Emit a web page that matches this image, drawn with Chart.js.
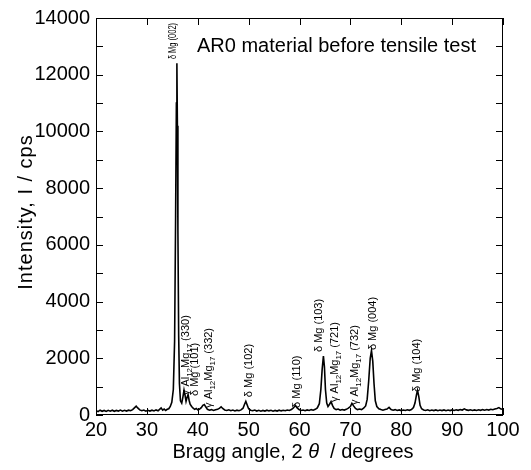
<!DOCTYPE html>
<html lang="en">
<head>
<meta charset="UTF-8">
<title>AR0 material before tensile test</title>
<script src="https://cdn.jsdelivr.net/npm/chart.js"></script>
<style>
  html, body { margin: 0; padding: 0; background: #fff; }
  #wrap { width: 531px; height: 470px; }
</style>
</head>
<body>
<div id="wrap"><canvas id="chart" width="531" height="470"></canvas></div>
<script>
// diffraction pattern, 2 theta in degrees, intensity in cps
const twoTheta = [
  20.0, 20.4, 20.8, 21.2, 21.6, 22.0, 22.4, 22.8, 23.2, 23.6, 24.0, 24.4, 24.8, 25.2, 25.6, 26.0, 26.4, 26.8,
  27.2, 27.6, 27.9, 28.2, 28.6, 29.0, 29.4, 29.8, 30.2, 30.6, 31.0, 31.4, 31.8, 32.2, 32.5, 32.8, 33.1, 33.4,
  33.7, 34.0, 34.3, 34.6, 34.9, 35.2, 35.45, 35.65, 35.8, 35.9, 36.0, 36.1, 36.25, 36.4, 36.6, 36.85, 37.1, 37.3,
  37.5, 37.7, 37.9, 38.1, 38.3, 38.5, 38.8, 39.1, 39.4, 39.7, 40.0, 40.3, 40.7, 41.0, 41.3, 41.6, 41.9, 42.3,
  42.7, 43.1, 43.5, 43.9, 44.3, 44.6, 44.9, 45.3, 45.7, 46.1, 46.5, 46.9, 47.3, 47.7, 48.1, 48.5, 48.9, 49.2,
  49.45, 49.7, 50.0, 50.4, 50.8, 51.2, 51.6, 52.0, 52.4, 52.8, 53.2, 53.6, 54.0, 54.4, 54.8, 55.2, 55.6, 56.0,
  56.4, 56.8, 57.2, 57.6, 58.0, 58.4, 58.8, 59.2, 59.5, 59.9, 60.3, 60.7, 61.1, 61.5, 61.9, 62.3, 62.7, 63.1,
  63.5, 63.9, 64.2, 64.45, 64.7, 64.9, 65.1, 65.35, 65.6, 65.9, 66.2, 66.5, 66.8, 67.2, 67.6, 68.0, 68.4, 68.8,
  69.2, 69.6, 70.0, 70.3, 70.6, 71.0, 71.4, 71.8, 72.2, 72.6, 73.0, 73.3, 73.6, 73.9, 74.15, 74.4, 74.65, 74.9,
  75.2, 75.6, 76.0, 76.4, 76.8, 77.2, 77.6, 78.0, 78.4, 78.8, 79.2, 79.6, 80.0, 80.4, 80.8, 81.2, 81.6, 82.0,
  82.4, 82.7, 83.0, 83.2, 83.45, 83.7, 84.0, 84.4, 84.8, 85.2, 85.6, 86.0, 86.4, 86.8, 87.2, 87.6, 88.0, 88.4,
  88.8, 89.2, 89.6, 90.0, 90.4, 90.8, 91.2, 91.6, 92.0, 92.4, 92.8, 93.2, 93.6, 94.0, 94.4, 94.8, 95.2, 95.6,
  96.0, 96.4, 96.8, 97.2, 97.6, 98.0, 98.4, 98.8, 99.2, 99.6, 100.0
];
const intensity = [
  150, 120, 170, 130, 160, 125, 165, 135, 170, 130, 160, 140, 175, 135, 165, 140, 170, 150,
  190, 260, 310, 250, 180, 150, 175, 135, 165, 140, 170, 145, 180, 150, 200, 250, 170, 210,
  160, 200, 220, 300, 450, 900, 2600, 7000, 11000, 12400, 10200, 6500, 2800, 1100, 500, 420, 650, 880,
  700, 480, 620, 720, 520, 380, 300, 240, 200, 230, 180, 200, 260, 340, 370, 280, 200, 170,
  190, 160, 185, 200, 240, 290, 230, 180, 160, 185, 150, 175, 145, 170, 150, 180, 240, 380,
  480, 360, 220, 170, 150, 175, 140, 165, 135, 160, 140, 170, 145, 165, 135, 160, 140, 170,
  145, 165, 150, 175, 160, 190, 250, 340, 260, 190, 160, 175, 150, 180, 160, 190, 170, 200,
  250, 400, 900, 1600, 2080, 1700, 900, 420, 300, 380, 470, 330, 230, 190, 210, 170, 195, 175,
  200, 240, 300, 410, 330, 230, 190, 210, 190, 240, 320, 550, 1200, 2000, 2270, 1900, 1100, 500,
  300, 220, 190, 170, 195, 210, 270, 190, 170, 190, 160, 180, 155, 175, 160, 185, 165, 190,
  260, 420, 720, 870, 650, 340, 220, 180, 160, 185, 150, 175, 155, 180, 150, 175, 155, 180,
  150, 175, 155, 180, 160, 185, 165, 190, 175, 215, 180, 165, 185, 160, 180, 160, 185, 165,
  190, 170, 195, 175, 200, 185, 210, 230, 260, 210, 200
];

// peak labels: text (_NN = subscript), anchor angle, intensity where the text starts
const peakLabels = [
  'δ Mg (002)', 'γ Al_12Mg_17 (330)', 'δ Mg (101)', 'γ Al_12Mg_17 (332)', 'δ Mg (102)', 'δ Mg (110)',
  'δ Mg (103)', 'γ Al_12Mg_17 (721)', 'γ Al_12Mg_17 (732)', 'δ Mg (004)', 'δ Mg (104)'
];
const peakLabelX = [35.1, 37.7, 39.4, 42.2, 50.1, 59.5, 63.8, 67.0, 70.9, 74.4, 83.1];
const peakLabelY = [12550, 700, 670, 250, 630, 250, 2220, 460, 350, 2290, 810];

const chartTitle = 'AR0 material before tensile test';

const FONT = '"Liberation Sans", Arial, sans-serif';

function drawRich(ctx, text, x, y, size, stretch) {
  const parts = text.split(/(_\d+)/).filter(Boolean);
  ctx.save();
  ctx.translate(x, y);
  ctx.rotate(-Math.PI / 2);
  ctx.scale(stretch, 1);
  ctx.textBaseline = 'middle';
  ctx.textAlign = 'left';
  let cx = 0;
  for (const p of parts) {
    if (p[0] === '_') {
      ctx.font = (size * 0.72) + 'px ' + FONT;
      ctx.fillText(p.slice(1), cx, size * 0.32);
      cx += ctx.measureText(p.slice(1)).width;
    } else {
      ctx.font = size + 'px ' + FONT;
      ctx.fillText(p, cx, 0);
      cx += ctx.measureText(p).width;
    }
  }
  ctx.restore();
}

const decor = {
  id: 'decor',
  afterDraw(chart) {
    const { ctx, chartArea: a, scales: { x, y } } = chart;
    ctx.save();
    ctx.strokeStyle = '#000';
    ctx.fillStyle = '#000';
    ctx.lineWidth = 1;
    ctx.strokeRect(a.left + 0.5, a.top + 0.5, a.right - a.left - 1, a.bottom - a.top - 1);

    // inward ticks
    ctx.beginPath();
    for (let v = 20; v <= 100; v += 10) {
      const px = Math.round(x.getPixelForValue(v)) + 0.5;
      ctx.moveTo(px, a.top); ctx.lineTo(px, a.top + 7);
      ctx.moveTo(px, a.bottom); ctx.lineTo(px, a.bottom - 7);
    }
    for (let v = 0; v <= 14000; v += 1000) {
      const py = Math.round(y.getPixelForValue(v)) + 0.5;
      ctx.moveTo(a.left, py); ctx.lineTo(a.left + 7, py);
      ctx.moveTo(a.right, py); ctx.lineTo(a.right - 7, py);
    }
    ctx.stroke();

    // peak labels
    peakLabels.forEach((t, i) => {
      drawRich(ctx, t, x.getPixelForValue(peakLabelX[i]), y.getPixelForValue(peakLabelY[i]), 11, i === 0 ? 0.68 : 1);
    });

    // title inside the plot
    ctx.font = '20px ' + FONT;
    ctx.textBaseline = 'middle';
    ctx.textAlign = 'left';
    ctx.fillText(chartTitle, a.left + 101, a.top + 28);

    // y axis title
    ctx.save();
    ctx.translate(26, 212);
    ctx.rotate(-Math.PI / 2);
    ctx.font = '20px ' + FONT;
    ctx.letterSpacing = '1px';
    ctx.textAlign = 'center';
    ctx.textBaseline = 'middle';
    ctx.fillText('Intensity, I / cps', 0, 0);
    ctx.restore();

    // x axis title with italic theta
    const pieces = [['Bragg angle, 2 ', ''], ['θ', 'italic '], ['  / degrees', '']];
    let w = 0;
    pieces.forEach(p => { ctx.font = p[1] + '20px ' + FONT; w += ctx.measureText(p[0]).width; });
    let cx = 293 - w / 2;
    ctx.textAlign = 'left';
    pieces.forEach(p => {
      ctx.font = p[1] + '20px ' + FONT;
      ctx.fillText(p[0], cx, 452);
      cx += ctx.measureText(p[0]).width;
    });
    ctx.restore();
  }
};

new Chart(document.getElementById('chart'), {
  type: 'line',
  data: {
    datasets: [{
      data: twoTheta.map((t, i) => ({ x: t, y: intensity[i] })),
      borderColor: '#000',
      borderWidth: 1.6,
      pointRadius: 0,
      tension: 0,
      fill: false
    }]
  },
  options: {
    responsive: false,
    animation: false,
    devicePixelRatio: 1,
    layout: { padding: { top: 17, right: 28, left: 0, bottom: 0 } },
    plugins: { legend: { display: false }, tooltip: { enabled: false } },
    scales: {
      x: {
        type: 'linear', min: 20, max: 100,
        ticks: { stepSize: 10, color: '#000', font: { family: FONT, size: 20 }, padding: 3, maxRotation: 0,
                 callback: v => String(v) },
        grid: { display: false, drawTicks: false },
        border: { display: false },
        afterFit: s => { s.height = 55; }
      },
      y: {
        min: 0, max: 14000,
        ticks: { stepSize: 2000, color: '#000', font: { family: FONT, size: 20 }, padding: 6,
                 callback: v => String(v) },
        grid: { display: false, drawTicks: false },
        border: { display: false },
        afterFit: s => { s.width = 96; }
      }
    }
  },
  plugins: [decor]
});
</script>
</body>
</html>
